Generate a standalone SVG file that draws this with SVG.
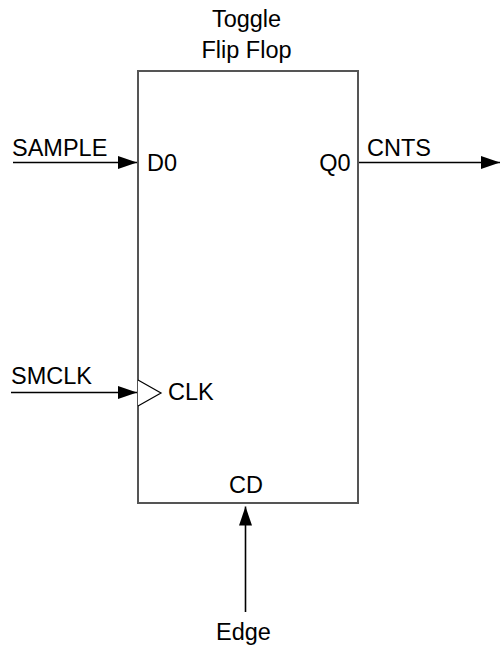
<svg xmlns="http://www.w3.org/2000/svg" width="500" height="649" viewBox="0 0 500 649">
  <style>
    text { font-family: "Liberation Sans", Arial, sans-serif; font-size: 23.5px; fill: #000; }
    .mid { text-anchor: middle; }
    .end { text-anchor: end; }
    .box { fill: #fff; stroke: #555; stroke-width: 2; }
    .wire { fill: none; stroke: #000; stroke-width: 1.6; }
    .clk { fill: #fff; stroke: #000; stroke-width: 1.2; }
  </style>
  <defs>
    <marker id="arrow" viewBox="0 0 19 13" refX="19" refY="6.5" markerWidth="19" markerHeight="13" markerUnits="userSpaceOnUse" orient="auto">
      <path d="M0,0 L19,6.5 L0,13 Z" fill="#000"/>
    </marker>
  </defs>

  <rect width="500" height="649" fill="#fff"/>

  <!-- toggle flip flop block -->
  <g id="tff">
    <rect class="box" x="138" y="71" width="220" height="432"/>
    <text class="mid" x="246.5" y="26.5">Toggle</text>
    <text class="mid" x="246.5" y="57.5">Flip Flop</text>
    <text x="147" y="171">D0</text>
    <text class="end" x="350.5" y="171">Q0</text>
    <path class="clk" d="M138,380 L161,393 L138,406"/>
    <text x="168" y="400">CLK</text>
    <text class="mid" x="246" y="492.5">CD</text>
  </g>

  <!-- signal labels -->
  <g id="labels">
    <text x="12" y="156">SAMPLE</text>
    <text x="367" y="155.5">CNTS</text>
    <text x="11" y="384">SMCLK</text>
    <text class="mid" x="243.5" y="639.5">Edge</text>
  </g>

  <!-- connectors -->
  <g id="connectors">
    <line class="wire" x1="13" y1="162.5" x2="137" y2="162.5" marker-end="url(#arrow)"/>
    <line class="wire" x1="359" y1="162.5" x2="500" y2="162.5" marker-end="url(#arrow)"/>
    <line class="wire" x1="11" y1="392.5" x2="137" y2="392.5" marker-end="url(#arrow)"/>
    <line class="wire" x1="245.5" y1="612" x2="245.5" y2="506.5" marker-end="url(#arrow)"/>
  </g>
</svg>
